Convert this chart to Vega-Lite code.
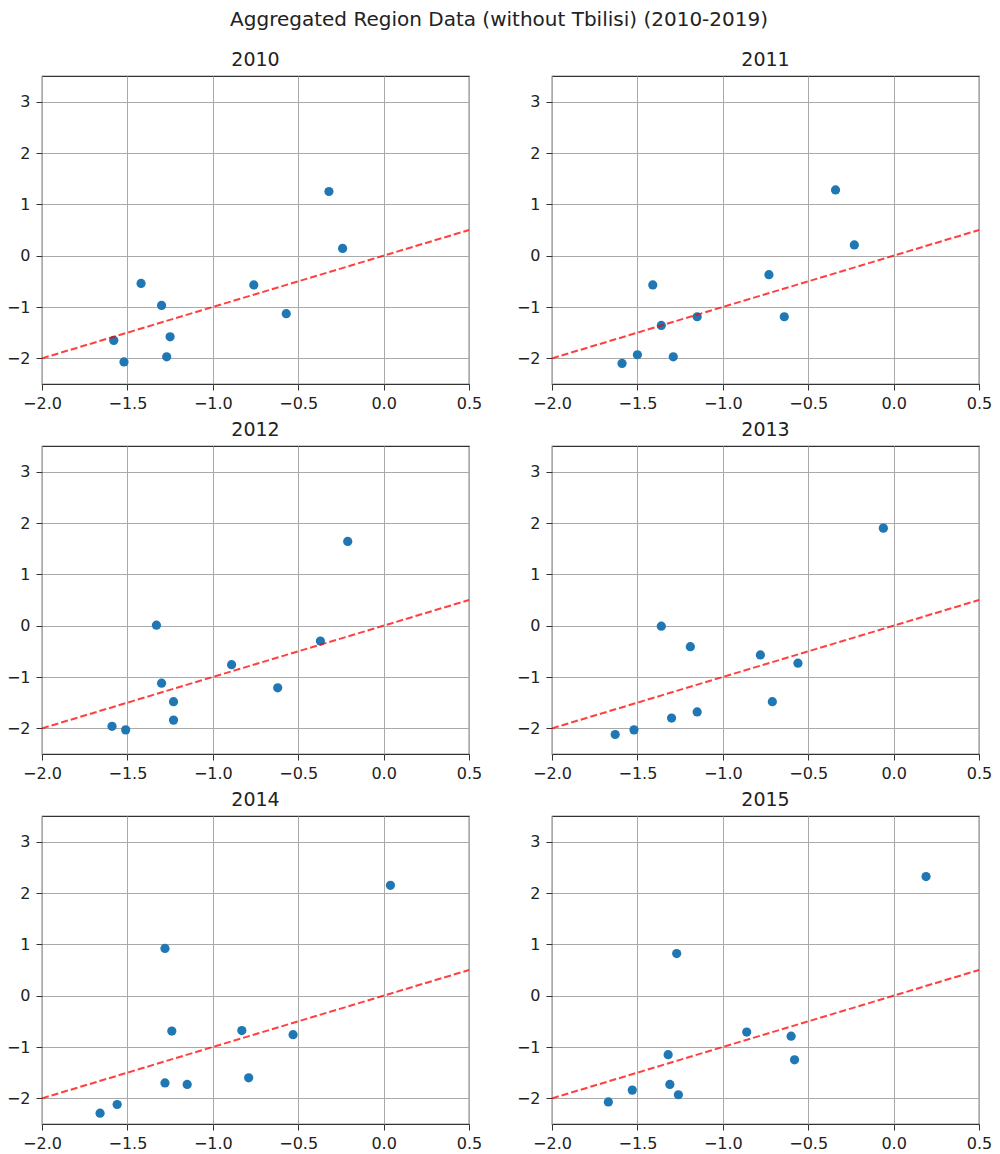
{
  "$schema": "https://vega.github.io/schema/vega-lite/v6.json",
  "padding": {"left": 5, "top": 10, "right": 5, "bottom": 0},
  "background": "white",
  "title": {"text": "Aggregated Region Data (without Tbilisi) (2010-2019)", "fontSize": 20, "anchor": "middle", "offset": 20},
  "datasets": {
    "points": [
      {"year": 2010, "x": -0.32, "y": 1.25}, {"year": 2010, "x": -0.24, "y": 0.14}, {"year": 2010, "x": -1.42, "y": -0.54}, {"year": 2010, "x": -0.76, "y": -0.57}, {"year": 2010, "x": -1.30, "y": -0.97}, {"year": 2010, "x": -0.57, "y": -1.13}, {"year": 2010, "x": -1.25, "y": -1.58}, {"year": 2010, "x": -1.58, "y": -1.65}, {"year": 2010, "x": -1.27, "y": -1.97}, {"year": 2010, "x": -1.52, "y": -2.07},
      {"year": 2011, "x": -0.34, "y": 1.28}, {"year": 2011, "x": -0.23, "y": 0.21}, {"year": 2011, "x": -1.41, "y": -0.57}, {"year": 2011, "x": -0.73, "y": -0.37}, {"year": 2011, "x": -1.36, "y": -1.36}, {"year": 2011, "x": -1.15, "y": -1.19}, {"year": 2011, "x": -0.64, "y": -1.19}, {"year": 2011, "x": -1.50, "y": -1.93}, {"year": 2011, "x": -1.29, "y": -1.97}, {"year": 2011, "x": -1.59, "y": -2.10},
      {"year": 2012, "x": -0.21, "y": 1.64}, {"year": 2012, "x": -1.33, "y": 0.01}, {"year": 2012, "x": -0.37, "y": -0.30}, {"year": 2012, "x": -0.89, "y": -0.76}, {"year": 2012, "x": -1.30, "y": -1.12}, {"year": 2012, "x": -0.62, "y": -1.21}, {"year": 2012, "x": -1.23, "y": -1.48}, {"year": 2012, "x": -1.23, "y": -1.84}, {"year": 2012, "x": -1.59, "y": -1.96}, {"year": 2012, "x": -1.51, "y": -2.03},
      {"year": 2013, "x": -0.06, "y": 1.90}, {"year": 2013, "x": -1.36, "y": -0.01}, {"year": 2013, "x": -1.19, "y": -0.41}, {"year": 2013, "x": -0.78, "y": -0.57}, {"year": 2013, "x": -0.56, "y": -0.73}, {"year": 2013, "x": -0.71, "y": -1.48}, {"year": 2013, "x": -1.15, "y": -1.68}, {"year": 2013, "x": -1.30, "y": -1.80}, {"year": 2013, "x": -1.52, "y": -2.03}, {"year": 2013, "x": -1.63, "y": -2.12},
      {"year": 2014, "x": 0.04, "y": 2.15}, {"year": 2014, "x": -1.28, "y": 0.92}, {"year": 2014, "x": -1.24, "y": -0.69}, {"year": 2014, "x": -0.83, "y": -0.68}, {"year": 2014, "x": -0.53, "y": -0.76}, {"year": 2014, "x": -0.79, "y": -1.60}, {"year": 2014, "x": -1.28, "y": -1.70}, {"year": 2014, "x": -1.15, "y": -1.73}, {"year": 2014, "x": -1.56, "y": -2.12}, {"year": 2014, "x": -1.66, "y": -2.29},
      {"year": 2015, "x": 0.19, "y": 2.32}, {"year": 2015, "x": -1.27, "y": 0.82}, {"year": 2015, "x": -0.86, "y": -0.71}, {"year": 2015, "x": -0.60, "y": -0.79}, {"year": 2015, "x": -0.58, "y": -1.25}, {"year": 2015, "x": -1.32, "y": -1.15}, {"year": 2015, "x": -1.31, "y": -1.73}, {"year": 2015, "x": -1.26, "y": -1.93}, {"year": 2015, "x": -1.53, "y": -1.84}, {"year": 2015, "x": -1.67, "y": -2.07}
    ],
    "ref": [{"x": -2.0, "y": -2.0}, {"x": 0.5, "y": 0.5}]
  },
  "columns": 2,
  "spacing": {"row": 8, "column": 32},
  "concat": [
    {"title": "2010", "width": 427, "height": 308, "layer": [
      {"data": {"name": "points"}, "transform": [{"filter": "datum.year == 2010"}], "mark": {"type": "circle", "size": 85, "color": "#1f77b4", "opacity": 1},
       "encoding": {"x": {"field": "x", "type": "quantitative", "title": null, "scale": {"domain": [-2, 0.5], "nice": false, "zero": false}, "axis": {"values": [-2, -1.5, -1, -0.5, 0, 0.5], "format": ".1f"}},
                    "y": {"field": "y", "type": "quantitative", "title": null, "scale": {"domain": [-2.5, 3.5], "nice": false, "zero": false}, "axis": {"values": [-2, -1, 0, 1, 2, 3], "format": "d"}}}},
      {"data": {"name": "ref"}, "mark": {"type": "line", "color": "red", "strokeDash": [7, 3], "strokeWidth": 2, "opacity": 0.75},
       "encoding": {"x": {"field": "x", "type": "quantitative"}, "y": {"field": "y", "type": "quantitative"}}}
    ]},
    {"title": "2011", "width": 427, "height": 308, "layer": [
      {"data": {"name": "points"}, "transform": [{"filter": "datum.year == 2011"}], "mark": {"type": "circle", "size": 85, "color": "#1f77b4", "opacity": 1},
       "encoding": {"x": {"field": "x", "type": "quantitative", "title": null, "scale": {"domain": [-2, 0.5], "nice": false, "zero": false}, "axis": {"values": [-2, -1.5, -1, -0.5, 0, 0.5], "format": ".1f"}},
                    "y": {"field": "y", "type": "quantitative", "title": null, "scale": {"domain": [-2.5, 3.5], "nice": false, "zero": false}, "axis": {"values": [-2, -1, 0, 1, 2, 3], "format": "d"}}}},
      {"data": {"name": "ref"}, "mark": {"type": "line", "color": "red", "strokeDash": [7, 3], "strokeWidth": 2, "opacity": 0.75},
       "encoding": {"x": {"field": "x", "type": "quantitative"}, "y": {"field": "y", "type": "quantitative"}}}
    ]},
    {"title": "2012", "width": 427, "height": 308, "layer": [
      {"data": {"name": "points"}, "transform": [{"filter": "datum.year == 2012"}], "mark": {"type": "circle", "size": 85, "color": "#1f77b4", "opacity": 1},
       "encoding": {"x": {"field": "x", "type": "quantitative", "title": null, "scale": {"domain": [-2, 0.5], "nice": false, "zero": false}, "axis": {"values": [-2, -1.5, -1, -0.5, 0, 0.5], "format": ".1f"}},
                    "y": {"field": "y", "type": "quantitative", "title": null, "scale": {"domain": [-2.5, 3.5], "nice": false, "zero": false}, "axis": {"values": [-2, -1, 0, 1, 2, 3], "format": "d"}}}},
      {"data": {"name": "ref"}, "mark": {"type": "line", "color": "red", "strokeDash": [7, 3], "strokeWidth": 2, "opacity": 0.75},
       "encoding": {"x": {"field": "x", "type": "quantitative"}, "y": {"field": "y", "type": "quantitative"}}}
    ]},
    {"title": "2013", "width": 427, "height": 308, "layer": [
      {"data": {"name": "points"}, "transform": [{"filter": "datum.year == 2013"}], "mark": {"type": "circle", "size": 85, "color": "#1f77b4", "opacity": 1},
       "encoding": {"x": {"field": "x", "type": "quantitative", "title": null, "scale": {"domain": [-2, 0.5], "nice": false, "zero": false}, "axis": {"values": [-2, -1.5, -1, -0.5, 0, 0.5], "format": ".1f"}},
                    "y": {"field": "y", "type": "quantitative", "title": null, "scale": {"domain": [-2.5, 3.5], "nice": false, "zero": false}, "axis": {"values": [-2, -1, 0, 1, 2, 3], "format": "d"}}}},
      {"data": {"name": "ref"}, "mark": {"type": "line", "color": "red", "strokeDash": [7, 3], "strokeWidth": 2, "opacity": 0.75},
       "encoding": {"x": {"field": "x", "type": "quantitative"}, "y": {"field": "y", "type": "quantitative"}}}
    ]},
    {"title": "2014", "width": 427, "height": 308, "layer": [
      {"data": {"name": "points"}, "transform": [{"filter": "datum.year == 2014"}], "mark": {"type": "circle", "size": 85, "color": "#1f77b4", "opacity": 1},
       "encoding": {"x": {"field": "x", "type": "quantitative", "title": null, "scale": {"domain": [-2, 0.5], "nice": false, "zero": false}, "axis": {"values": [-2, -1.5, -1, -0.5, 0, 0.5], "format": ".1f"}},
                    "y": {"field": "y", "type": "quantitative", "title": null, "scale": {"domain": [-2.5, 3.5], "nice": false, "zero": false}, "axis": {"values": [-2, -1, 0, 1, 2, 3], "format": "d"}}}},
      {"data": {"name": "ref"}, "mark": {"type": "line", "color": "red", "strokeDash": [7, 3], "strokeWidth": 2, "opacity": 0.75},
       "encoding": {"x": {"field": "x", "type": "quantitative"}, "y": {"field": "y", "type": "quantitative"}}}
    ]},
    {"title": "2015", "width": 427, "height": 308, "layer": [
      {"data": {"name": "points"}, "transform": [{"filter": "datum.year == 2015"}], "mark": {"type": "circle", "size": 85, "color": "#1f77b4", "opacity": 1},
       "encoding": {"x": {"field": "x", "type": "quantitative", "title": null, "scale": {"domain": [-2, 0.5], "nice": false, "zero": false}, "axis": {"values": [-2, -1.5, -1, -0.5, 0, 0.5], "format": ".1f"}},
                    "y": {"field": "y", "type": "quantitative", "title": null, "scale": {"domain": [-2.5, 3.5], "nice": false, "zero": false}, "axis": {"values": [-2, -1, 0, 1, 2, 3], "format": "d"}}}},
      {"data": {"name": "ref"}, "mark": {"type": "line", "color": "red", "strokeDash": [7, 3], "strokeWidth": 2, "opacity": 0.75},
       "encoding": {"x": {"field": "x", "type": "quantitative"}, "y": {"field": "y", "type": "quantitative"}}}
    ]}
  ],
  "config": {
    "view": {"stroke": "#333333", "strokeWidth": 1.2},
    "axis": {"grid": true, "gridColor": "#aaaaaa", "gridWidth": 1, "domain": false, "tickColor": "#333333", "tickSize": 6, "labelFont": "DejaVu Sans", "labelFontSize": 16, "labelColor": "#222222", "labelPadding": 5, "labelFlush": false, "labelOverlap": false},
    "axisY": {"labelPadding": 6},
    "title": {"font": "DejaVu Sans", "fontSize": 19, "fontWeight": "normal", "color": "#222222", "offset": 6}
  }
}
